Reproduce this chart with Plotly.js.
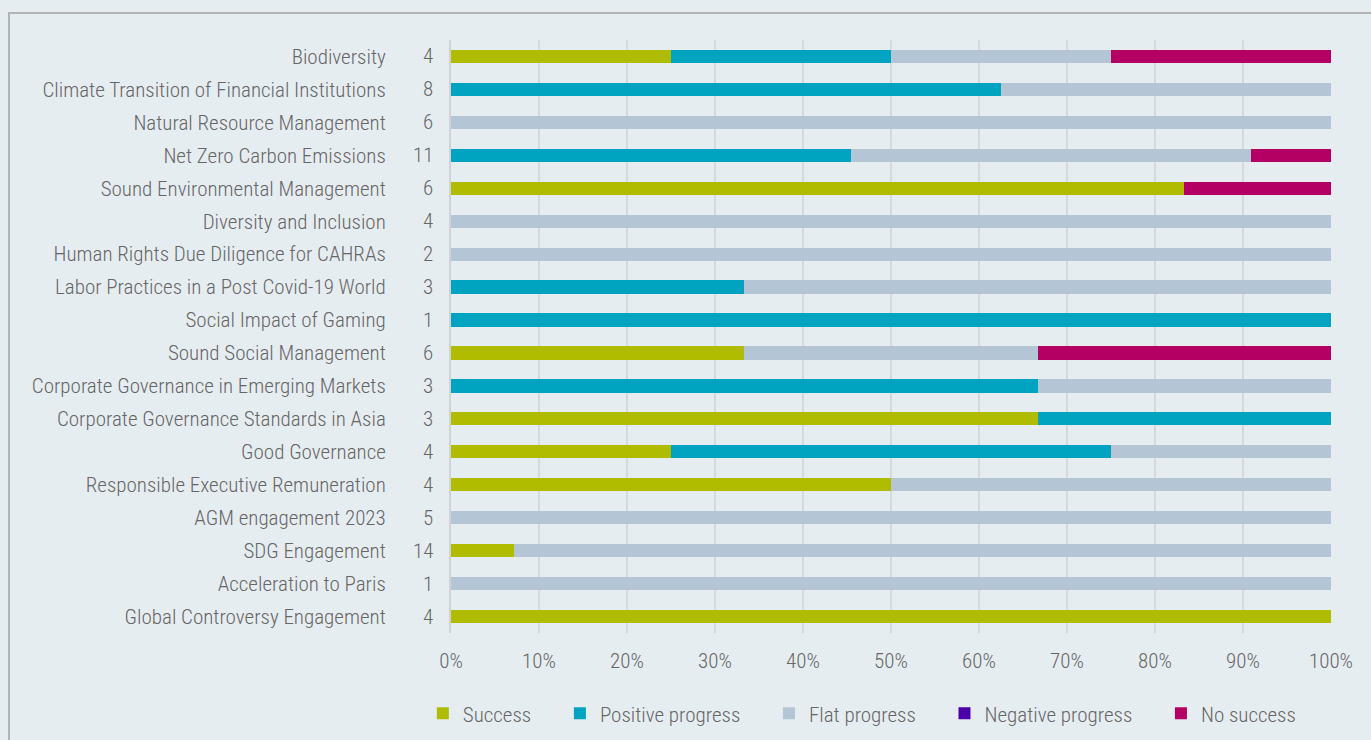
<!DOCTYPE html>
<html>
<head>
<meta charset="utf-8">
<script src="https://cdn.plot.ly/plotly-3.0.1.min.js"></script>
<style>
  html, body { margin: 0; padding: 0; background: #e6edf1; width: 1371px; height: 740px; overflow: hidden; }
  #frame { position: absolute; left: 8px; top: 12px; width: 1400px; height: 800px; border-top: 2px solid #b3b3b3; border-left: 2px solid #b3b3b3; }
  #chart { position: absolute; left: 0; top: 0; width: 1371px; height: 740px; }
</style>
</head>
<body>
<div id="frame"></div>
<div id="chart"></div>
<script>
const categories = [
  "Biodiversity",
  "Climate Transition of Financial Institutions",
  "Natural Resource Management",
  "Net Zero Carbon Emissions",
  "Sound Environmental Management",
  "Diversity and Inclusion",
  "Human Rights Due Diligence for CAHRAs",
  "Labor Practices in a Post Covid-19 World",
  "Social Impact of Gaming",
  "Sound Social Management",
  "Corporate Governance in Emerging Markets",
  "Corporate Governance Standards in Asia",
  "Good Governance",
  "Responsible Executive Remuneration",
  "AGM engagement 2023",
  "SDG Engagement",
  "Acceleration to Paris",
  "Global Controversy Engagement"
];
const totals = [4, 8, 6, 11, 6, 4, 2, 3, 1, 6, 3, 3, 4, 4, 5, 14, 1, 4];

// counts of engagements per outcome
const success          = [1, 0, 0, 0, 5, 0, 0, 0, 0, 2, 0, 2, 1, 2, 0, 1, 0, 4];
const positiveProgress = [1, 5, 0, 5, 0, 0, 0, 1, 1, 0, 2, 1, 2, 0, 0, 0, 0, 0];
const flatProgress     = [1, 3, 6, 5, 0, 4, 2, 2, 0, 2, 1, 0, 1, 2, 5, 13, 1, 0];
const negativeProgress = [0, 0, 0, 0, 0, 0, 0, 0, 0, 0, 0, 0, 0, 0, 0, 0, 0, 0];
const noSuccess        = [1, 0, 0, 1, 1, 0, 0, 0, 0, 2, 0, 0, 0, 0, 0, 0, 0, 0];

const seriesNames = ["Success", "Positive progress", "Flat progress", "Negative progress", "No success"];
const seriesValues = [success, positiveProgress, flatProgress, negativeProgress, noSuccess];
const seriesColors = ["#afbc00", "#00a3c0", "#b4c6d6", "#4b00aa", "#b30062"];

const FONT = "'Roboto Condensed', 'Liberation Sans Narrow', 'Roboto', sans-serif";
const FS = 21;
const pad = "\u00a0\u00a0\u00a0\u00a0\u00a0";

const traces = seriesNames.map((name, i) => ({
  type: "bar",
  orientation: "h",
  name: name + pad,
  x: seriesValues[i],
  y: categories,
  marker: { color: seriesColors[i], line: { width: 0 } },
  hoverinfo: "skip"
}));

const annotations = categories.map((c, i) => ({
  x: 0, xref: "x", y: c, yref: "y",
  text: String(totals[i]),
  xanchor: "right", yanchor: "middle",
  xshift: -16, showarrow: false,
  font: { family: FONT, size: FS, color: "#666666", weight: 300 }
}));

const layout = {
  width: 1371, height: 740,
  paper_bgcolor: "rgba(0,0,0,0)",
  plot_bgcolor: "rgba(0,0,0,0)",
  barmode: "stack",
  barnorm: "percent",
  bargap: 0.6,
  margin: { l: 451, r: 40, t: 40, b: 107, autoexpand: false },
  font: { family: FONT, size: FS, color: "#666666", weight: 300 },
  xaxis: {
    range: [0, 100],
    dtick: 10,
    ticksuffix: "%",
    showgrid: true,
    gridcolor: "#d5d9dc",
    gridwidth: 2,
    zeroline: false,
    showline: false,
    ticks: "",
    ticklabelstandoff: 13,
    fixedrange: true,
    tickfont: { family: FONT, size: FS, color: "#666666", weight: 300 }
  },
  yaxis: {
    autorange: "reversed",
    showgrid: false,
    zeroline: false,
    showline: true,
    linecolor: "#cfd3d6",
    linewidth: 2,
    ticks: "",
    ticklabelstandoff: 59,
    fixedrange: true,
    tickfont: { family: FONT, size: FS, color: "#666666", weight: 300 }
  },
  showlegend: true,
  legend: {
    orientation: "h",
    xref: "paper", yref: "paper",
    x: -0.032, xanchor: "left",
    y: -0.136, yanchor: "middle",
    traceorder: "normal",
    bgcolor: "rgba(0,0,0,0)",
    font: { family: FONT, size: FS, color: "#666666", weight: 300 }
  },
  annotations: annotations
};

Plotly.newPlot("chart", traces, layout, { displayModeBar: false, staticPlot: true });
</script>
</body>
</html>
